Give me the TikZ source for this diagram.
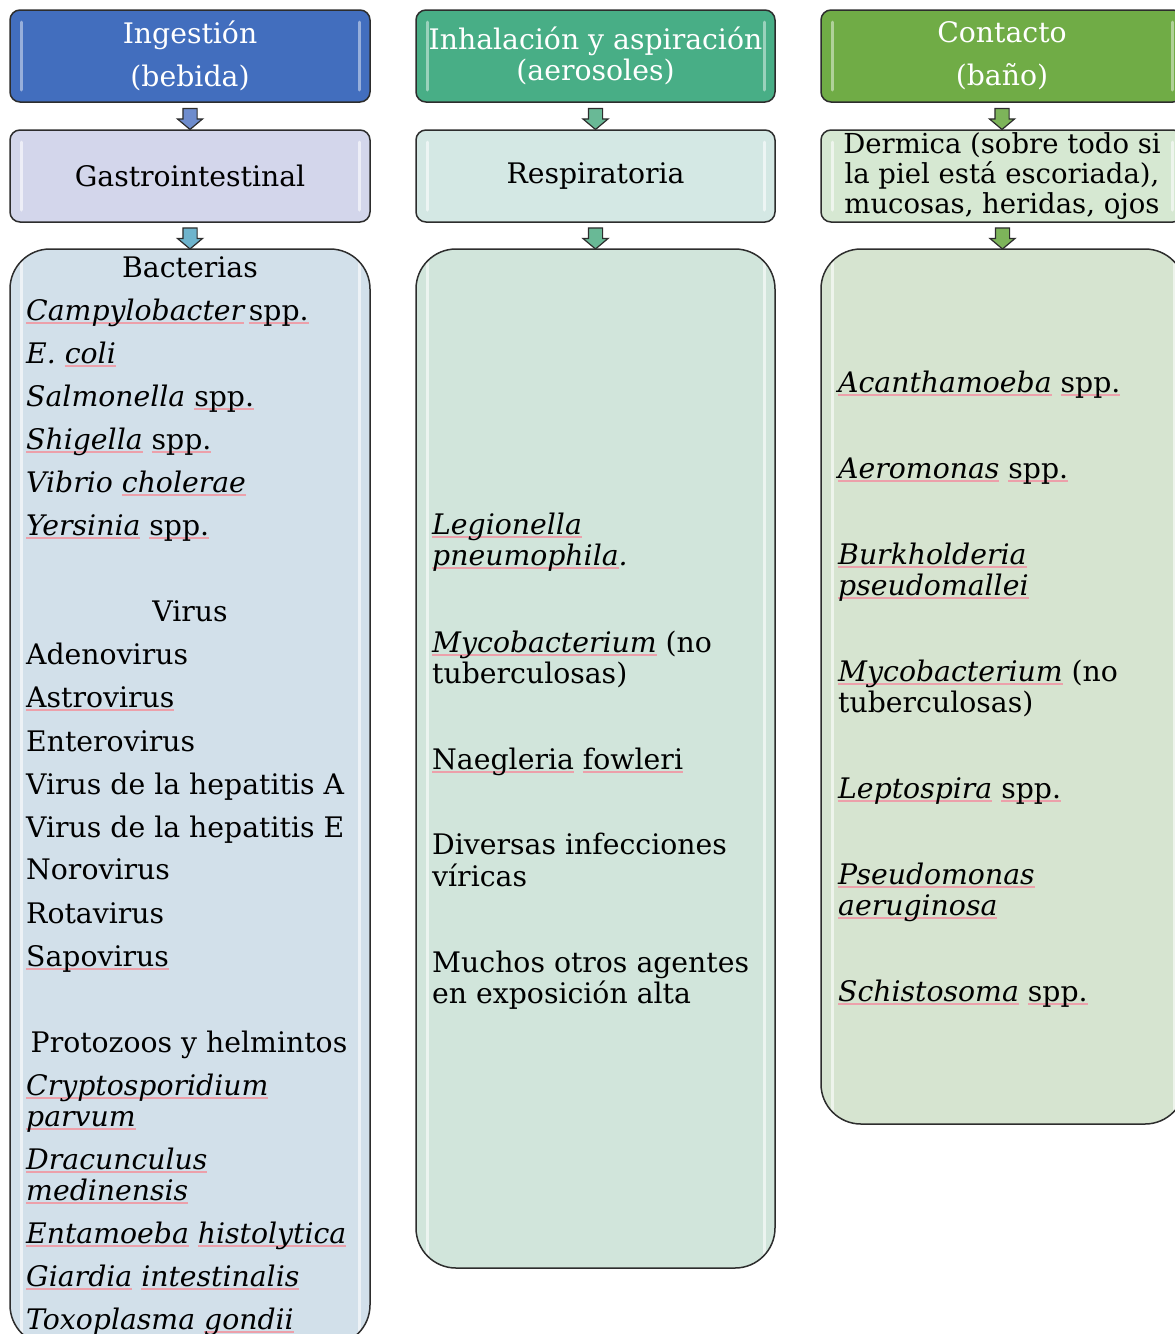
\documentclass[tikz,border=0pt]{standalone}
\usepackage{fontspec}
\setmainfont{DejaVu Serif}
\usetikzlibrary{shapes.arrows}

\definecolor{boxline}{RGB}{45,45,45}
\definecolor{ingest}{RGB}{66,110,190}
\definecolor{inhal}{RGB}{72,174,134}
\definecolor{contact}{RGB}{112,172,70}
\definecolor{gastro}{RGB}{211,214,235}
\definecolor{resp}{RGB}{212,232,228}
\definecolor{derm}{RGB}{214,232,210}
\definecolor{bluelist}{RGB}{210,224,234}
\definecolor{teallist}{RGB}{209,229,219}
\definecolor{greenlist}{RGB}{214,228,208}
\definecolor{arrblue}{RGB}{110,140,205}
\definecolor{arrcyan}{RGB}{110,180,205}
\definecolor{arrteal}{RGB}{105,185,150}
\definecolor{arrgreen}{RGB}{125,180,90}
\definecolor{squig}{RGB}{236,160,170}

% pink spell-check line under a word
\newcommand\sq[1]{\setbox0\hbox{#1}\rlap{\textcolor{squig}{\rule[-3.5pt]{\wd0}{1.1pt}}}\box0\relax}

\tikzset{
  gloss/.style={path picture={
    \draw[white, opacity=#1, line width=3pt, line cap=round]
      ([xshift=11pt,yshift=-12pt]path picture bounding box.north west) -- ([xshift=11pt,yshift=12pt]path picture bounding box.south west)
      ([xshift=-11pt,yshift=-12pt]path picture bounding box.north east) -- ([xshift=-11pt,yshift=12pt]path picture bounding box.south east);}},
  headbox/.style={draw=boxline, line width=1.5pt, rounded corners=10pt, minimum width=360pt, minimum height=92pt,
    inner sep=0pt, align=center, text=white, gloss=.45},
  midbox/.style={draw=boxline, line width=1.5pt, rounded corners=10pt, minimum width=360pt, minimum height=92pt,
    inner sep=0pt, align=center, gloss=.6},
  listbox/.style={draw=boxline, line width=1.5pt, rounded corners=40pt, minimum width=360pt, gloss=.6},
  downarr/.style={single arrow, draw=boxline, line width=1.2pt, rotate=-90, minimum height=21pt,
    inner sep=6.5pt, single arrow head extend=5.5pt, single arrow tip angle=100},
  item/.style={anchor=base west, inner sep=0pt},
  title/.style={anchor=base, inner sep=0pt},
}

\begin{document}
\begin{tikzpicture}[x=1pt,y=-1pt, font=\fontsize{28.3}{31}\selectfont]
\useasboundingbox (0,0) rectangle (1175,1334);
\clip (0,0) rectangle (1175,1334);

% top row
\node[headbox, fill=ingest, font=\fontsize{28.3}{43}\selectfont] (h1) at (190,56) {Ingestión\\(bebida)};
\node[headbox, fill=inhal, minimum width=359pt] (h2) at (595.5,56) {Inhalación y aspiración\\(aerosoles)};
\node[headbox, fill=contact, font=\fontsize{28.3}{43}\selectfont, minimum width=362pt] (h3) at (1002,56) {Contacto\\(baño)};

% second row
\node[midbox, fill=gastro] (m1) at (190,176) {Gastrointestinal};
\node[midbox, fill=resp, minimum width=359pt] (m2) at (595.5,176) {Respiratoria};
\node[midbox, fill=derm, minimum width=362pt, font=\fontsize{27.5}{30}\selectfont] (m3) at (1002,176)
  {Dermica (sobre todo si\\la piel está escoriada),\\mucosas, heridas, ojos};

% lists
\node[listbox, fill=bluelist, minimum height=1096pt] (l1) at (190,797) {};
\node[listbox, fill=teallist, minimum width=359pt, minimum height=1019pt] (l2) at (595.5,758.5) {};
\node[listbox, fill=greenlist, minimum width=364pt, minimum height=875pt] (l3) at (1003,686.5) {};

% arrows
\path (h1.south) -- (m1.north) node[midway, downarr, fill=arrblue] (a1) {};
\path (m1.south) -- (l1.north) node[midway, downarr, fill=arrcyan] (a2) {};
\path (h2.south) -- (m2.north) node[midway, downarr, fill=arrteal] (a3) {};
\path (m2.south) -- (l2.north) node[midway, downarr, fill=arrteal] (a4) {};
\path (h3.south) -- (m3.north) node[midway, downarr, fill=arrgreen] (a5) {};
\path (m3.south) -- (l3.north) node[midway, downarr, fill=arrgreen] (a6) {};

% ingestion column
\node[title] (t1) at (190,277) {Bacterias};
\node[title] (t2) at (190,621) {Virus};
\node[title] (t3) at (189,1052) {Protozoos y helmintos};
\foreach \y/\t [count=\i] in {
  320/{\textit{\sq{Campylobacter}}\,\sq{spp.}},
  363/{\textit{E. \sq{coli}}},
  406/{\textit{Salmonella} \sq{spp.}},
  449/{\textit{\sq{Shigella}} \sq{spp.}},
  492/{\textit{Vibrio \sq{cholerae}}},
  535/{\textit{\sq{Yersinia}} \sq{spp.}},
  664/{Adenovirus},
  707/{\sq{Astrovirus}},
  751/{Enterovirus},
  794/{Virus de la hepatitis A},
  837/{Virus de la hepatitis E},
  879/{Norovirus},
  923/{Rotavirus},
  966/{\sq{Sapovirus}},
  1095/{\textit{\sq{Cryptosporidium}}},
  1126/{\textit{\sq{parvum}}},
  1169/{\textit{\sq{Dracunculus}}},
  1200/{\textit{\sq{medinensis}}},
  1243/{\textit{\sq{Entamoeba} \sq{histolytica}}},
  1286/{\textit{\sq{Giardia} \sq{intestinalis}}},
  1329/{\textit{Toxoplasma \sq{gondii}}}}
  \node[item] (g\i) at (26,\y) {\t};

% inhalation column
\foreach \y/\t [count=\i] in {
  534/{\textit{\sq{Legionella}}},
  565/{\textit{\sq{pneumophila}.}},
  652/{\textit{\sq{Mycobacterium}} (no},
  683/{tuberculosas)},
  769/{\sq{Naegleria} \sq{fowleri}},
  854/{Diversas infecciones},
  886/{víricas},
  972/{Muchos otros agentes},
  1003/{en exposición alta}}
  \node[item] (r\i) at (432,\y) {\t};

% contact column
\foreach \y/\t [count=\i] in {
  392/{\textit{\sq{Acanthamoeba}} \sq{spp.}},
  478/{\textit{\sq{Aeromonas}} \sq{spp.}},
  564/{\textit{\sq{Burkholderia}}},
  595/{\textit{\sq{pseudomallei}}},
  681/{\textit{\sq{Mycobacterium}} (no},
  712/{tuberculosas)},
  798/{\textit{\sq{Leptospira}} \sq{spp.}},
  884/{\textit{\sq{Pseudomonas}}},
  915/{\textit{\sq{aeruginosa}}},
  1001/{\textit{\sq{Schistosoma}} \sq{spp.}}}
  \node[item] (d\i) at (838,\y) {\t};

\end{tikzpicture}
\end{document}
